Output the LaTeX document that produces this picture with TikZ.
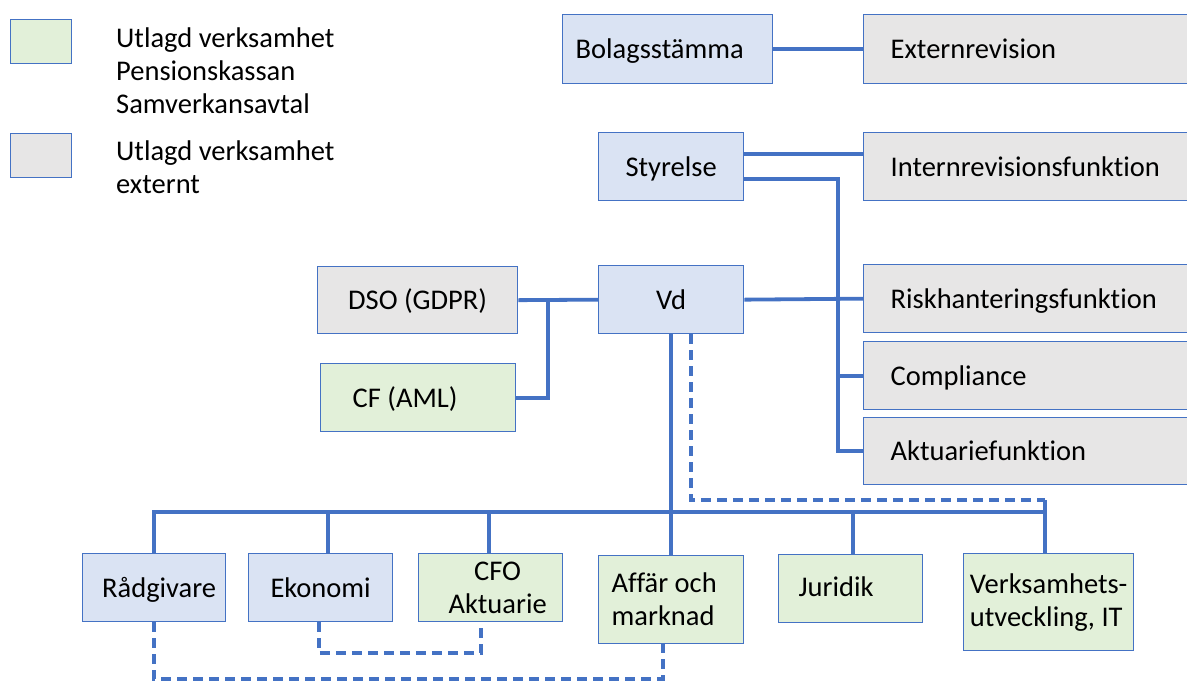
\documentclass[tikz,border=0pt]{standalone}
\usepackage{fontspec}
\setmainfont{Carlito}[Ligatures={NoCommon}]
\definecolor{bluef}{HTML}{DAE3F3}
\definecolor{greenf}{HTML}{E2F0D9}
\definecolor{grayf}{HTML}{E7E6E6}
\definecolor{bord}{HTML}{4472C4}
\definecolor{conn}{HTML}{4472C4}
\newcommand{\fsz}{\fontsize{28.5}{33}\selectfont}
\tikzset{
  box/.style={draw=bord, line width=1.3pt, inner sep=0pt, font=\fsz, anchor=north west},
  bluebox/.style={box, fill=bluef},
  greenbox/.style={box, fill=greenf},
  graybox/.style={box, fill=grayf},
  one/.style={text height=22pt, text depth=3pt},
  leftbox/.style 2 args={text width=#1, inner xsep=#2, align=flush left},
  conline/.style={draw=conn, line width=3.8pt},
  dshline/.style={draw=conn, line width=3.8pt, dash pattern=on 10pt off 6pt},
  legtext/.style={font=\fsz, anchor=north west, align=flush left, inner sep=0pt}
}
\begin{document}
\begin{tikzpicture}[x=1pt,y=-1pt]
\useasboundingbox (0,0) rectangle (1187,681);
\clip (0,0) rectangle (1187,681);
% legend
\node[greenbox, minimum width=61, minimum height=44] (lg1) at (10,19) {};
\node[graybox, minimum width=61, minimum height=44] (lg2) at (10,133) {};
\node[legtext] (lt1) at (116,27.5) {Utlagd verksamhet\\Pensionskassan\\Samverkansavtal};
\node[legtext] (lt2) at (116,140.5) {Utlagd verksamhet\\externt};
% top
\node[bluebox, one, minimum height=69, leftbox={184}{13}] (bol) at (562,14) {Bolagsstämma};
\node[graybox, one, minimum height=69, leftbox={276}{27}] (ext) at (863,14) {Externrevision};
\node[bluebox, one, minimum width=145, minimum height=68] (sty) at (598,132) {Styrelse};
\node[graybox, one, minimum height=68, leftbox={276}{27}] (int) at (863,132) {Internrevisionsfunktion};
\node[graybox, one, minimum width=200, minimum height=67] (dso) at (317,266) {DSO (GDPR)};
\node[bluebox, one, minimum width=145, minimum height=68] (vd) at (598,265) {Vd};
\node[greenbox, one, minimum height=68, leftbox={131}{32}] (cf) at (320,363) {CF (AML)};
\node[graybox, one, minimum height=68, leftbox={276}{27}] (risk) at (863,264) {Riskhanteringsfunktion};
\node[graybox, one, minimum height=68, leftbox={276}{27}] (comp) at (863,341) {Compliance};
\node[graybox, one, minimum height=67, leftbox={276}{27}] (akt) at (863,417) {Aktuariefunktion};
% bottom
\node[bluebox, one, minimum width=143, minimum height=68] (rad) at (82,553) {\hspace*{10pt}Rådgivare};
\node[bluebox, one, minimum width=144, minimum height=68] (eko) at (248,553) {Ekonomi};
\node[greenbox, minimum width=144, minimum height=68, align=center] (cfo) at (418,553) {\hspace*{14pt}CFO\\\hspace*{14pt}Aktuarie};
\node[greenbox, minimum height=88, leftbox={119}{13}] (aff) at (598,555) {Affär och\\marknad};
\node[greenbox, text height=19pt, text depth=4pt, minimum height=68, leftbox={104}{20}] (jur) at (778,554) {Juridik};
\node[greenbox, minimum width=170, minimum height=97, align=flush left] (ver) at (963,553) {Verksamhets-\\utveckling, IT};
% helper coordinates
\coordinate (s1) at ([yshift=13]sty.east);
\coordinate (s2) at ([yshift=-12]sty.east);
\coordinate (bx) at (838,0);
\coordinate (dx) at (548,0);
\coordinate (bus) at (0,512);
\coordinate (dsh) at (0,500);
\coordinate (vdd) at ([xshift=20]vd.south);
\coordinate (vbx) at (1045,0);
\coordinate (b1) at (0,679);
\coordinate (b2) at (0,653);
\coordinate (affd) at ([xshift=-8]aff.south);
\coordinate (ekod) at ([xshift=-2]eko.south);
\coordinate (cfod) at ([xshift=-10]cfo.south);
% solid connectors
\draw[conline] (bol.east) -- (ext.west);
\draw[conline] (s1) -- (s1 -| int.west);
\draw[conline] (s2) -| (bx |- akt.west) -- (akt.west);
\draw[conline] (bx |- comp.west) -- (comp.west);
\draw[conline] (vd.east) -- (risk.west);
\draw[conline] (dso.east) -- (vd.west);
\draw[conline] (dso.east -| dx) |- (cf.east);
\draw[conline] (vd.south) -- (aff.north);
\draw[conline] (rad.north) -- (rad.north |- bus) -- (vbx |- bus);
\draw[conline] ([xshift=7]eko.north) -- ([xshift=7]eko.north |- bus);
\draw[conline] ([xshift=-2]cfo.north) -- ([xshift=-2]cfo.north |- bus);
\draw[conline] ([xshift=2]jur.north) -- ([xshift=2]jur.north |- bus);
\draw[conline] (vbx |- ver.north) -- (vbx |- dsh);
% dashed connectors
\draw[dshline] (vdd) |- (vbx |- dsh);
\draw[dshline] (rad.south) |- (b1 -| affd) -- (affd);
\draw[dshline] (ekod) |- (b2 -| cfod) -- (cfod);
\end{tikzpicture}
\end{document}
